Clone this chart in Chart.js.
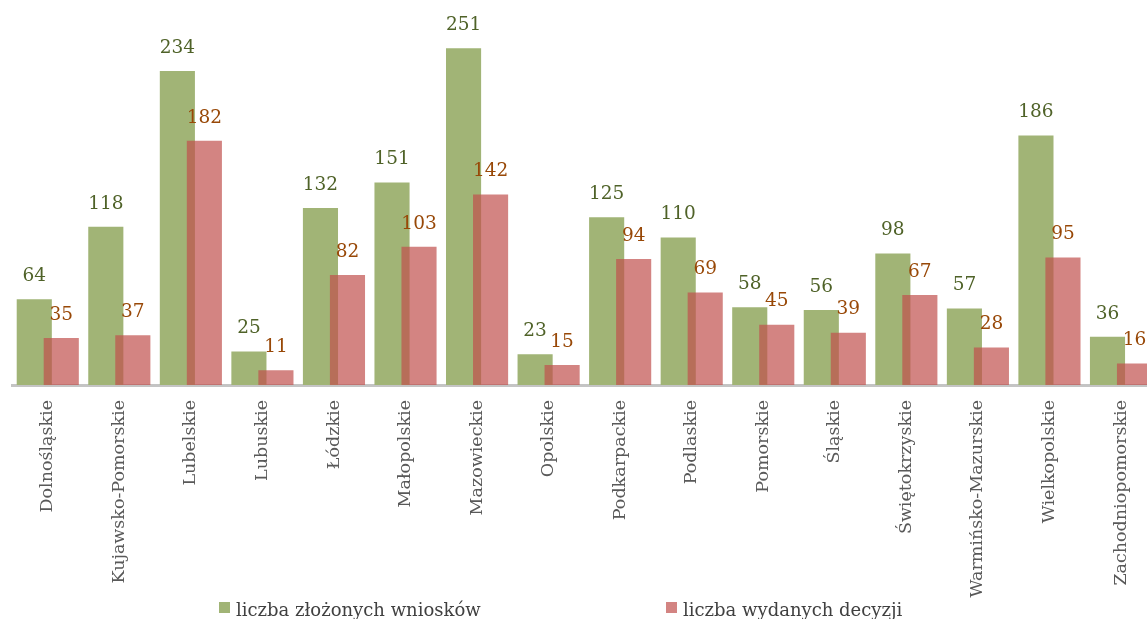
<!DOCTYPE html>
<html>
<head>
<meta charset="utf-8">
<script src="https://cdn.jsdelivr.net/npm/chart.js@4/dist/chart.umd.min.js"></script>
<style>
html,body{margin:0;padding:0;background:#fff;overflow:hidden;}
#wrap{position:absolute;left:0;top:0;width:1157px;height:619px;}
</style>
</head>
<body>
<div id="wrap"><canvas id="c"></canvas></div>
<script>
const categories = ["Dolnośląskie","Kujawsko-Pomorskie","Lubelskie","Lubuskie","Łódzkie","Małopolskie","Mazowieckie","Opolskie","Podkarpackie","Podlaskie","Pomorskie","Śląskie","Świętokrzyskie","Warmińsko-Mazurskie","Wielkopolskie","Zachodniopomorskie"];
const applications = [64,118,234,25,132,151,251,23,125,110,58,56,98,57,186,36];
const decisions = [35,37,182,11,82,103,142,15,94,69,45,39,67,28,95,16];
const seriesNames = ["liczba złożonych wniosków","liczba wydanych decyzji"];

const GREEN = "rgb(161,180,118)";
const RED = "rgba(192,80,77,0.7)";
const labelColors = ["#4F6228","#984807"];

// draw green first, then the translucent red on top of it
const drawOrder = {
  id:'drawOrder',
  beforeDatasetsDraw(chart){
    for (let i = 0; i < chart.data.datasets.length; i++) {
      const meta = chart.getDatasetMeta(i);
      if (meta.visible) meta.controller.draw();
    }
    return false;
  }
};

const valueLabels = {
  id:'valueLabels',
  afterDraw(chart){
    const ctx = chart.ctx;
    ctx.save();
    ctx.font = '18.5px "DejaVu Serif"';
    ctx.textAlign = 'center';
    ctx.textBaseline = 'middle';
    chart.data.datasets.forEach((ds,i)=>{
      const meta = chart.getDatasetMeta(i);
      ctx.fillStyle = labelColors[i];
      meta.data.forEach((el,j)=>{
        ctx.fillText(String(ds.data[j]), el.x, el.y - 23);
      });
    });
    ctx.restore();
  }
};

const customLegend = {
  id:'customLegend',
  afterDraw(chart){
    const ctx = chart.ctx;
    ctx.save();
    ctx.font = '18px "DejaVu Serif"';
    ctx.textBaseline = 'alphabetic';
    ctx.textAlign = 'left';
    const xs = [219, 666];
    const cols = [GREEN, RED];
    chart.data.datasets.forEach((ds,i)=>{
      ctx.fillStyle = cols[i];
      ctx.fillRect(xs[i], 602, 11, 11);
      ctx.fillStyle = '#404040';
      ctx.fillText(ds.label, xs[i] + 17, 616);
    });
    ctx.restore();
  }
};

new Chart(document.getElementById('c'), {
  type:'bar',
  data:{
    labels: categories,
    datasets:[
      {label: seriesNames[0], data: applications, backgroundColor: GREEN, borderWidth:0},
      {label: seriesNames[1], data: decisions, backgroundColor: RED, borderWidth:0}
    ]
  },
  options:{
    responsive:true,
    maintainAspectRatio:false,
    animation:false,
    datasets:{bar:{categoryPercentage:0.755, barPercentage:1.3, grouped:true}},
    layout:{padding:{left:12,right:0,top:0,bottom:0}},
    plugins:{legend:{display:false}, tooltip:{enabled:false}},
    scales:{
      x:{
        grid:{display:false, drawTicks:false},
        border:{display:true,color:'#C4C4C4',width:3},
        ticks:{minRotation:90,maxRotation:90,autoSkip:false,padding:15,color:'#595959',font:{family:'DejaVu Serif',size:17.5}},
        afterFit(scale){ scale.height = 234; }
      },
      y:{display:false,min:0,max:287}
    }
  },
  plugins:[drawOrder, valueLabels, customLegend]
});
</script>
</body>
</html>
